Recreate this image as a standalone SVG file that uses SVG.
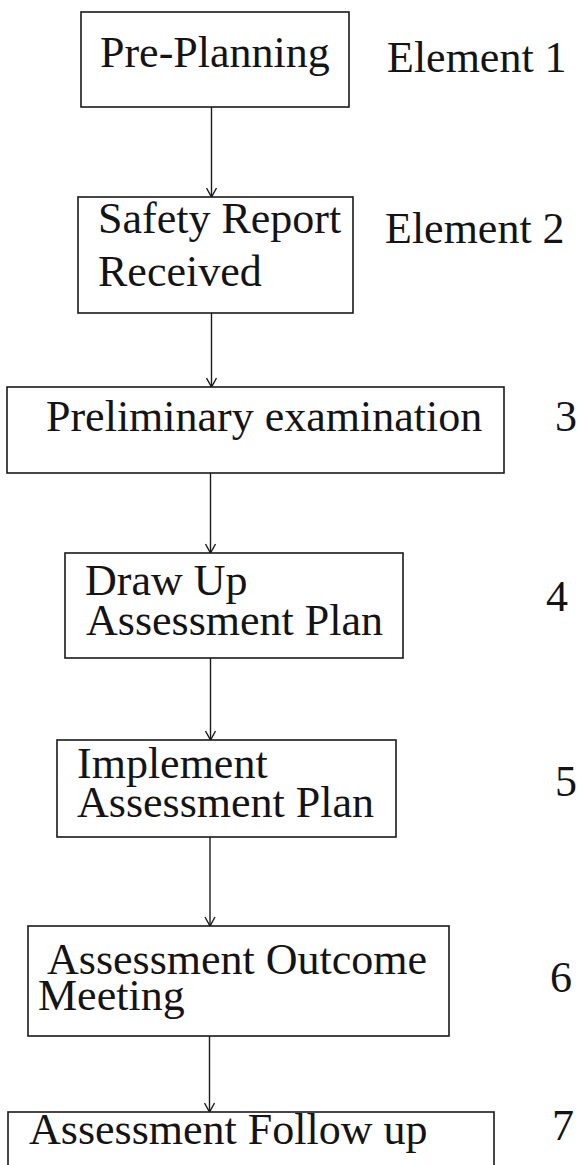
<svg xmlns="http://www.w3.org/2000/svg" width="577" height="1165" viewBox="0 0 577 1165">
  <style>
    .box { fill: #ffffff; stroke: #1a1a1a; stroke-width: 1.6; }
    .t { font-family: "Liberation Serif", "Times New Roman", serif; font-size: 44px; fill: #141414; }
    .conn { stroke: #1a1a1a; stroke-width: 1.4; fill: none; }
  </style>
  <defs>
    <marker id="arr" viewBox="0 0 12 12" refX="10" refY="6" markerWidth="12" markerHeight="12" markerUnits="userSpaceOnUse" orient="auto">
      <path d="M1,1 L10,6 L1,11" fill="none" stroke="#1a1a1a" stroke-width="1.4"/>
    </marker>
  </defs>
  <rect width="577" height="1165" fill="#ffffff"/>

  <g id="connectors">
    <line class="conn" x1="211.5" y1="107" x2="211.5" y2="197" marker-end="url(#arr)"/>
    <line class="conn" x1="211.5" y1="313" x2="211.5" y2="387" marker-end="url(#arr)"/>
    <line class="conn" x1="210.5" y1="473" x2="210.5" y2="553" marker-end="url(#arr)"/>
    <line class="conn" x1="210.5" y1="658" x2="210.5" y2="740" marker-end="url(#arr)"/>
    <line class="conn" x1="210" y1="837" x2="210" y2="926" marker-end="url(#arr)"/>
    <line class="conn" x1="209.5" y1="1036" x2="209.5" y2="1112" marker-end="url(#arr)"/>
  </g>

  <g id="node1">
    <rect class="box" x="81" y="12" width="268" height="95"/>
    <text class="t" x="100" y="67">Pre-Planning</text>
  </g>
  <g id="label1">
    <text class="t" x="387" y="72">Element 1</text>
  </g>

  <g id="node2">
    <rect class="box" x="78" y="197" width="275" height="116"/>
    <text class="t"><tspan x="98" y="233">Safety Report</tspan><tspan x="98" y="286">Received</tspan></text>
  </g>
  <g id="label2">
    <text class="t" x="385" y="243">Element 2</text>
  </g>

  <g id="node3">
    <rect class="box" x="7" y="387" width="497" height="86"/>
    <text class="t" x="46" y="431">Preliminary examination</text>
  </g>
  <g id="label3">
    <text class="t" x="555" y="431">3</text>
  </g>

  <g id="node4">
    <rect class="box" x="65" y="553" width="338" height="105"/>
    <text class="t"><tspan x="85" y="595">Draw Up</tspan><tspan x="86" y="635">Assessment Plan</tspan></text>
  </g>
  <g id="label4">
    <text class="t" x="546" y="611">4</text>
  </g>

  <g id="node5">
    <rect class="box" x="57" y="740" width="339" height="97"/>
    <text class="t"><tspan x="77" y="778">Implement</tspan><tspan x="77" y="817">Assessment Plan</tspan></text>
  </g>
  <g id="label5">
    <text class="t" x="555" y="796">5</text>
  </g>

  <g id="node6">
    <rect class="box" x="28" y="926" width="421" height="110"/>
    <text class="t"><tspan x="47" y="974">Assessment Outcome</tspan><tspan x="38" y="1010">Meeting</tspan></text>
  </g>
  <g id="label6">
    <text class="t" x="550" y="992">6</text>
  </g>

  <g id="node7">
    <rect class="box" x="8" y="1112" width="486" height="70"/>
    <text class="t" x="29" y="1144">Assessment Follow up</text>
  </g>
  <g id="label7">
    <text class="t" x="552" y="1140">7</text>
  </g>
</svg>
